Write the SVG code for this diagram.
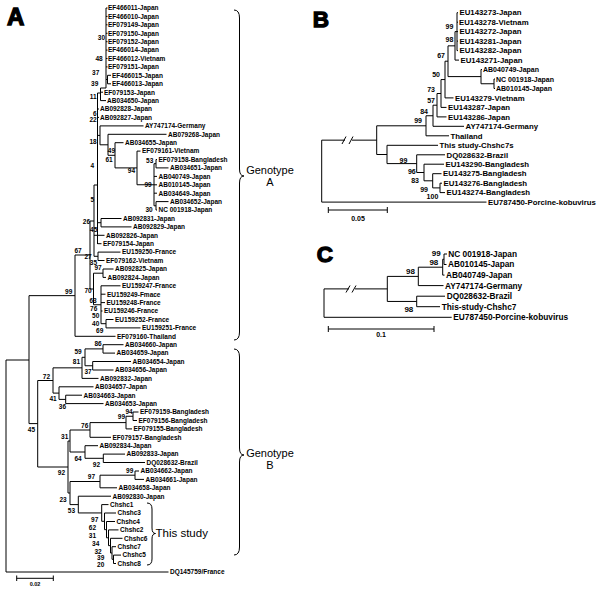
<svg xmlns="http://www.w3.org/2000/svg" width="600" height="590" viewBox="0 0 600 590">
<style>
.e{fill:none;stroke:#000;stroke-width:1}
text{font-family:"Liberation Sans",Arial,sans-serif;font-weight:bold;fill:#000}
.a{font-size:6.5px}
.ab{font-size:6.5px;text-anchor:end}
.b{font-size:7.8px}
.bs{font-size:7px}
.bb{font-size:7px;text-anchor:end}
.c{font-size:8.3px}
.cb{font-size:8px;text-anchor:end}
.p{font-size:24px;stroke:#000;stroke-width:1.3}
.g{font-size:11px;font-weight:normal;text-anchor:middle}
.s{font-size:11.5px;font-weight:normal}
.sc{text-anchor:middle}
</style>
<rect width="600" height="590" fill="#fff"/>
<g id="connectors" class="e">
<path id="treeA" d="M106,8V88M106,8H107.5M106,16.4H107.5M106,24.8H107.5M106,33.3H107.5M106,41.7H107.5M106,50.1H107.5M106,58.5H107.5M106,66.9H107.5M106,79.5H107.5M107.5,75.3V83.8M107.5,75.3H111M107.5,83.8H111M100.5,88H106M100.5,88V100.6M100.5,92.2H103M100.5,100.6H106M97.5,93H100.5M97.5,93V244M97.5,109H99M97.5,117.4H99M97.5,135.4H100M100,125.9V144.8M100,125.9H143.5M100,144.8H108M108,134.3V155.3M108,134.3H166.5M108,155.3H115M115,142.7V167.9M115,142.7H123.5M115,167.9H137M137,151.1V184.75M137,151.1H140.5M137,184.75H154M154,163.7V205.8M154,163.7H156M154,176.4H157M154,184.8H157M154,193.2H157M154,205.8H156M156,159.5V167.9M156,159.5H157M156,167.9H168.5M156,201.6V210M156,201.6H168.5M156,210H157M94,185V256.3M94,185H97.5M97.5,222.7H101M101,218.5V226.9M101,218.5H121.5M101,226.9H131.5M94,235.3H104.5M97.5,243.7H101.5M94,256.3H98M98,252.1V260.5M98,252.1H120.5M98,260.5H104.5M90,221H94M90,221V289M75,255H90M90,289H93.5M93.5,273.2V304.75M93.5,273.2H103M103,269V277.4M103,269H113.5M103,277.4H106M93.5,304.75H101M101,285.8V323.7M101,285.8H120.5M101,294.2H105.5M101,302.6H105M101,311H102.5M101,323.7H106M106,319.5V327.9M106,319.5H113.5M106,327.9H140.5M75,255V336.3M75,336.3H115.5M29,295.65H75M6,360V572M6,360H29M6,572H168.5M29,295.65V423.6M29,423.6H37.7M37.7,380.5V467M37.7,380.5H53M37.7,467H68M53,367.85V393.1M53,367.85H82M53,393.1H59M82,357.3V378.4M82,357.3H85M82,378.4H98.5M85,348.9V365.75M85,348.9H103M85,365.75H92.7M103,344.7V353.1M103,344.7H123.5M103,353.1H115M92.7,361.5V370M92.7,361.5H131M92.7,370H113.5M59,386.8V399.4M59,386.8H93.5M59,399.4H65.7M65.7,395.2V403.6M65.7,395.2H82M65.7,403.6H103.5M68,441V493M68,441H70M68,493H70M70,430V452M70,430H90M70,452H85M90,422.6V437.3M90,422.6H126M90,437.3H111M126,416.25V428.9M126,416.25H133M126,428.9H132M133,412V420.5M133,412H138.5M133,420.5H137M85,445.7V458.3M85,445.7H98M85,458.3H103.3M103.3,454.1V462.5M103.3,454.1H125M103.3,462.5H145M70,481.5V504.6M70,481.5H100M70,504.6H78.3M100,475.2V487.8M100,475.2H135M100,487.8H117M135,471V479.4M135,471H139M135,479.4H144M78.3,496.2V512.95M78.3,496.2H111M78.3,512.95H101.7M101.7,504.6V521.3M101.7,504.6H108.5M101.7,521.3H104.5M104.5,513V529.65M104.5,513H116M104.5,529.65H106.5M106.5,521.5V537.8M106.5,521.5H115M106.5,537.8H108.5M108.5,529.9V545.65M108.5,529.9H118.5M108.5,545.65H110.5M110.5,538.3V553M110.5,538.3H122.5M110.5,553H112M112,546.7V559.3M112,546.7H116M112,559.3H113.5M113.5,555.1V563.5M113.5,555.1H121M113.5,563.5H116"/>
<path id="scaleA" d="M16.7,578.3H53.3M16.7,575.5V581M53.3,575.5V581"/>
<path id="treeB" d="M457,12.7V50.6M457,12.7H458M457,22.2H458M457,31.6H458M457,41.1H458M457,50.6H458M455,31.6H457M455,31.6V60.1M455,60.1H459M448,45.85H455M448,45.85V76.6M448,76.6H481M481,69.5V83.75M481,69.5H482M481,83.75H494M494,79V88.5M494,79H495M494,88.5H495M445,61.2H448M445,61.2V97.9M445,97.9H453.5M441,79.55H445M441,79.55V107.4M441,107.4H446.5M437,93.5H441M437,93.5V116.9M437,116.9H446.5M433,105.2H437M433,105.2V126.3M433,126.3H464M426,115.75H433M426,115.75V135.8M426,135.8H449M376.7,125.8H426M376.7,125.8V154.5M376.7,154.5H387M387,145.3V163.6M387,145.3H438M387,163.6H416.7M416.7,154.8V172.5M416.7,154.8H445M416.7,172.5H424M424,164.2V180.8M424,164.2H444M424,180.8H432.7M432.7,173.7V187.9M432.7,173.7H441.5M432.7,187.9H440M440,183.2V192.6M440,183.2H442M440,192.6H445M321.7,140.15V202.1M321.7,140.15H345M352,140.15H376.7M321.7,202.1H486.5M342,144L346,136.5M349,144L353,136.5"/>
<path id="scaleB" d="M328.3,210H387.3M328.3,207V213M387.3,207V213"/>
<path id="treeC" d="M444,254V264.5M444,254H447M444,264.5H446.5M442.7,259.25H444M442.7,259.25V275.1M442.7,275.1H444.5M418.3,267.2H442.7M418.3,267.2V285.6M418.3,285.6H443.5M416.7,296.2V306.7M416.7,296.2H445M416.7,306.7H440M387.3,276.4H418.3M387.3,276.4V301.45M387.3,301.45H416.7M324,288.9H349M355,288.9H387.3M324,288.9V317.3M324,317.3H451.7M346,292.5L350,285.5M352,292.5L356,285.5"/>
<path id="scaleC" d="M328.3,329H434M328.3,326V332M434,326V332"/>
<path id="braceA" d="M234,10Q239.5,10 239.5,18V169Q239.5,176 244,176Q239.5,176 239.5,183V332Q239.5,340 234,340"/>
<path id="braceB" d="M234,349Q239.5,349 239.5,357V448Q239.5,455 244,455Q239.5,455 239.5,462V547Q239.5,555 234,555"/>
<path id="braceStudy" d="M147,503Q152,503 152,509V528Q152,533.5 155.5,533.5Q152,533.5 152,539V559Q152,565 147,565"/>
</g>
<g id="panel-labels">
<text class="p" x="7" y="25">A</text>
<text class="p" x="312.7" y="26.7" style="font-size:22.5px">B</text>
<text class="p" x="316.7" y="262.3" style="font-size:22.5px">C</text>
<text class="g" x="270" y="173.5">Genotype</text>
<text class="g" x="270" y="185.5">A</text>
<text class="g" x="270" y="457">Genotype</text>
<text class="g" x="270" y="469">B</text>
<text class="s" x="155.5" y="537">This study</text>
<text class="a sc" x="35" y="586" style="font-size:5.5px">0.02</text>
<text class="bs sc" x="358" y="221">0.05</text>
<text class="bs sc" x="381" y="337">0.1</text>
</g>
<g id="nodesA" class="a">
<g id="A1"><text x="108" y="10.3">EF466011-Japan</text></g>
<g id="A2"><text x="108" y="18.7">EF466010-Japan</text></g>
<g id="A3"><text x="108" y="27.1">EF079149-Japan</text></g>
<g id="A4"><text x="108" y="35.6">EF079150-Japan</text></g>
<g id="A5"><text x="108" y="44">EF079152-Japan</text></g>
<g id="A6"><text x="108" y="52.4">EF466014-Japan</text></g>
<g id="A7"><text x="108" y="60.8">EF466012-Vietnam</text></g>
<g id="A8"><text x="108" y="69.2">EF079151-Japan</text></g>
<g id="A9"><text x="112" y="77.6">EF466015-Japan</text></g>
<g id="A10"><text x="112" y="86.1">EF466013-Japan</text></g>
<g id="A11"><text x="104" y="94.5">EF079153-Japan</text></g>
<g id="A12"><text x="107" y="102.9">AB034650-Japan</text></g>
<g id="A13"><text x="100" y="111.3">AB092828-Japan</text></g>
<g id="A14"><text x="100" y="119.7">AB092827-Japan</text></g>
<g id="A15"><text x="145" y="128.2">AY747174-Germany</text></g>
<g id="A16"><text x="168" y="136.6">AB079268-Japan</text></g>
<g id="A17"><text x="125" y="145">AB034655-Japan</text></g>
<g id="A18"><text x="142" y="153.4">EF079161-Vietnam</text></g>
<g id="A19"><text x="158.5" y="161.8">EF079158-Bangladesh</text></g>
<g id="A20"><text x="170" y="170.2">AB034651-Japan</text></g>
<g id="A21"><text x="158.5" y="178.7">AB040749-Japan</text></g>
<g id="A22"><text x="158.5" y="187.1">AB010145-Japan</text></g>
<g id="A23"><text x="158.5" y="195.5">AB034649-Japan</text></g>
<g id="A24"><text x="170" y="203.9">AB034652-Japan</text></g>
<g id="A25"><text x="158.5" y="212.3">NC 001918-Japan</text></g>
<g id="A26"><text x="123" y="220.8">AB092831-Japan</text></g>
<g id="A27"><text x="133" y="229.2">AB092829-Japan</text></g>
<g id="A28"><text x="106" y="237.6">AB092826-Japan</text></g>
<g id="A29"><text x="103" y="246">EF079154-Japan</text></g>
<g id="A30"><text x="122" y="254.4">EU159250-France</text></g>
<g id="A31"><text x="106" y="262.8">EF079162-Vietnam</text></g>
<g id="A32"><text x="115" y="271.3">AB092825-Japan</text></g>
<g id="A33"><text x="107.5" y="279.7">AB092824-Japan</text></g>
<g id="A34"><text x="122" y="288.1">EU159247-France</text></g>
<g id="A35"><text x="107" y="296.5">EU159249-Fmace</text></g>
<g id="A36"><text x="106.5" y="304.9">EU159248-France</text></g>
<g id="A37"><text x="104" y="313.3">EU159246-France</text></g>
<g id="A38"><text x="115" y="321.8">EU159252-France</text></g>
<g id="A39"><text x="142" y="330.2">EU159251-France</text></g>
<g id="A40"><text x="117" y="338.6">EF079160-Thailand</text></g>
<g id="A41"><text x="125" y="347">AB034660-Japan</text></g>
<g id="A42"><text x="116.5" y="355.4">AB034659-Japan</text></g>
<g id="A43"><text x="132.5" y="363.8">AB034654-Japan</text></g>
<g id="A44"><text x="115" y="372.3">AB034656-Japan</text></g>
<g id="A45"><text x="100" y="380.7">AB092832-Japan</text></g>
<g id="A46"><text x="95" y="389.1">AB034657-Japan</text></g>
<g id="A47"><text x="83.5" y="397.5">AB034663-Japan</text></g>
<g id="A48"><text x="105" y="405.9">AB034653-Japan</text></g>
<g id="A49"><text x="140" y="414.3">EF079159-Bangladesh</text></g>
<g id="A50"><text x="138.5" y="422.8">EF079156-Bangladesh</text></g>
<g id="A51"><text x="133.5" y="431.2">EF079155-Bangladesh</text></g>
<g id="A52"><text x="112.5" y="439.6">EF079157-Bangladesh</text></g>
<g id="A53"><text x="99.5" y="448">AB092834-Japan</text></g>
<g id="A54"><text x="126.5" y="456.4">AB092833-Japan</text></g>
<g id="A55"><text x="146.5" y="464.8">DQ028632-Brazil</text></g>
<g id="A56"><text x="140.5" y="473.3">AB034662-Japan</text></g>
<g id="A57"><text x="145.5" y="481.7">AB034661-Japan</text></g>
<g id="A58"><text x="118.5" y="490.1">AB034658-Japan</text></g>
<g id="A59"><text x="112.5" y="498.5">AB092830-Japan</text></g>
<g id="A60"><text x="110" y="506.9">Chshc1</text></g>
<g id="A61"><text x="117.5" y="515.3">Chshc3</text></g>
<g id="A62"><text x="116.5" y="523.8">Chshc4</text></g>
<g id="A63"><text x="120" y="532.2">Chshc2</text></g>
<g id="A64"><text x="124" y="540.6">Chshc6</text></g>
<g id="A65"><text x="117.5" y="549">Chshc7</text></g>
<g id="A66"><text x="122.5" y="557.4">Chshc5</text></g>
<g id="A67"><text x="117.5" y="565.8">Chshc8</text></g>
<g id="A68"><text x="170" y="574.3">DQ145759/France</text></g>
</g>
<g id="bootstrapA" class="ab">
<text x="105" y="39.5">30</text><text x="102.7" y="60.5">48</text><text x="99.3" y="75">37</text><text x="98.3" y="85.5">39</text>
<text x="96.7" y="99">11</text><text x="96.7" y="115.5">6</text><text x="96.7" y="122">22</text><text x="96.7" y="143.5">18</text>
<text x="115" y="153">49</text><text x="112.7" y="161.5">61</text><text x="135" y="173">94</text><text x="153.3" y="162.5">53</text>
<text x="151.7" y="186.5">99</text><text x="152.7" y="212">30</text><text x="94" y="168">4</text><text x="94" y="201.5">5</text>
<text x="90" y="224">26</text><text x="97.3" y="231.5">45</text><text x="81.7" y="252.5">67</text><text x="91.7" y="258.5">27</text>
<text x="97" y="265">35</text><text x="101.7" y="270">97</text><text x="91.7" y="292.5">70</text><text x="96.7" y="302.5">63</text>
<text x="97.3" y="311">76</text><text x="99.3" y="317.5">50</text><text x="99.3" y="326">40</text><text x="103.3" y="332.5">69</text>
<text x="72.3" y="294">99</text><text x="101.7" y="345.5">86</text><text x="81.7" y="354">59</text><text x="80" y="364">81</text>
<text x="91.7" y="374">37</text><text x="50" y="378.5">72</text><text x="56.7" y="400.5">41</text><text x="66" y="408.5">36</text>
<text x="132.7" y="414">94</text><text x="125" y="419">99</text><text x="88.3" y="428">76</text><text x="35" y="431.5">45</text>
<text x="68.3" y="438.5">31</text><text x="81.7" y="460.5">64</text><text x="100" y="466.5">92</text><text x="65" y="474.5">92</text>
<text x="133.3" y="472.5">99</text><text x="95" y="479">97</text><text x="66.7" y="501.5">23</text><text x="75" y="512.5">53</text>
<text x="98.3" y="521.5">97</text><text x="96" y="530">62</text><text x="96" y="538">31</text><text x="99.3" y="546">34</text>
<text x="101.7" y="553.5">32</text><text x="104.3" y="560">39</text><text x="104.3" y="566.5">20</text>
</g>
<g id="nodesB" class="b">
<g id="B1"><text x="459.5" y="15.4">EU143273-Japan</text></g>
<g id="B2"><text x="459" y="24.9">EU143278-Vietnam</text></g>
<g id="B3"><text x="459.5" y="34.3">EU143272-Japan</text></g>
<g id="B4"><text x="459.5" y="43.8">EU143281-Japan</text></g>
<g id="B5"><text x="459.5" y="53.3">EU143282-Japan</text></g>
<g id="B6"><text x="460.5" y="62.8">EU143271-Japan</text></g>
<g id="B7"><text class="bs" x="483" y="72.2">AB040749-Japan</text></g>
<g id="B8"><text class="bs" x="496" y="81.7">NC 001918-Japan</text></g>
<g id="B9"><text class="bs" x="496" y="91.2">AB010145-Japan</text></g>
<g id="B10"><text x="455" y="100.6">EU143279-Vietnam</text></g>
<g id="B11"><text x="448" y="110.1">EU143287-Japan</text></g>
<g id="B12"><text x="448" y="119.6">EU143286-Japan</text></g>
<g id="B13"><text x="465.5" y="129">AY747174-Germany</text></g>
<g id="B14"><text x="450.5" y="138.5">Thailand</text></g>
<g id="B15"><text x="439.5" y="148">This study-Chshc7s</text></g>
<g id="B16"><text x="446.5" y="157.5">DQ028632-Brazil</text></g>
<g id="B17"><text x="445.5" y="166.9">EU143290-Bangladesh</text></g>
<g id="B18"><text x="443" y="176.4">EU143275-Bangladesh</text></g>
<g id="B19"><text x="443.5" y="185.9">EU143276-Bangladesh</text></g>
<g id="B20"><text x="446.5" y="195.3">EU143274-Bangladesh</text></g>
<g id="B21"><text x="488" y="204.8">EU787450-Porcine-kobuvirus</text></g>
</g>
<g id="bootstrapB" class="bb">
<text x="453.3" y="28.5">99</text><text x="453.3" y="42">98</text><text x="445" y="58">67</text><text x="440" y="76.5">50</text>
<text x="435" y="92">73</text><text x="435" y="102.5">57</text><text x="428" y="113.5">84</text><text x="422" y="122.5">99</text>
<text x="407.3" y="162.5">99</text><text x="415.7" y="174">96</text><text x="419" y="183">83</text><text x="428" y="191.5">99</text><text x="438.3" y="198.5">100</text>
</g>
<g id="nodesC" class="c">
<g id="C1"><text x="448.3" y="256.9">NC 001918-Japan</text></g>
<g id="C2"><text x="448" y="267.4">AB010145-Japan</text></g>
<g id="C3"><text x="446" y="278">AB040749-Japan</text></g>
<g id="C4"><text x="445" y="288.5">AY747174-Germany</text></g>
<g id="C5"><text x="446.7" y="299.1">DQ028632-Brazil</text></g>
<g id="C6"><text x="441.7" y="309.6">This-study-Chshc7</text></g>
<g id="C7"><text x="453.3" y="320.2">EU787450-Porcine-kobuvirus</text></g>
</g>
<g id="bootstrapC" class="cb">
<text x="440.7" y="256">99</text><text x="438.3" y="265">98</text><text x="415" y="273.5">98</text><text x="413.3" y="312">98</text>
</g>
</svg>
